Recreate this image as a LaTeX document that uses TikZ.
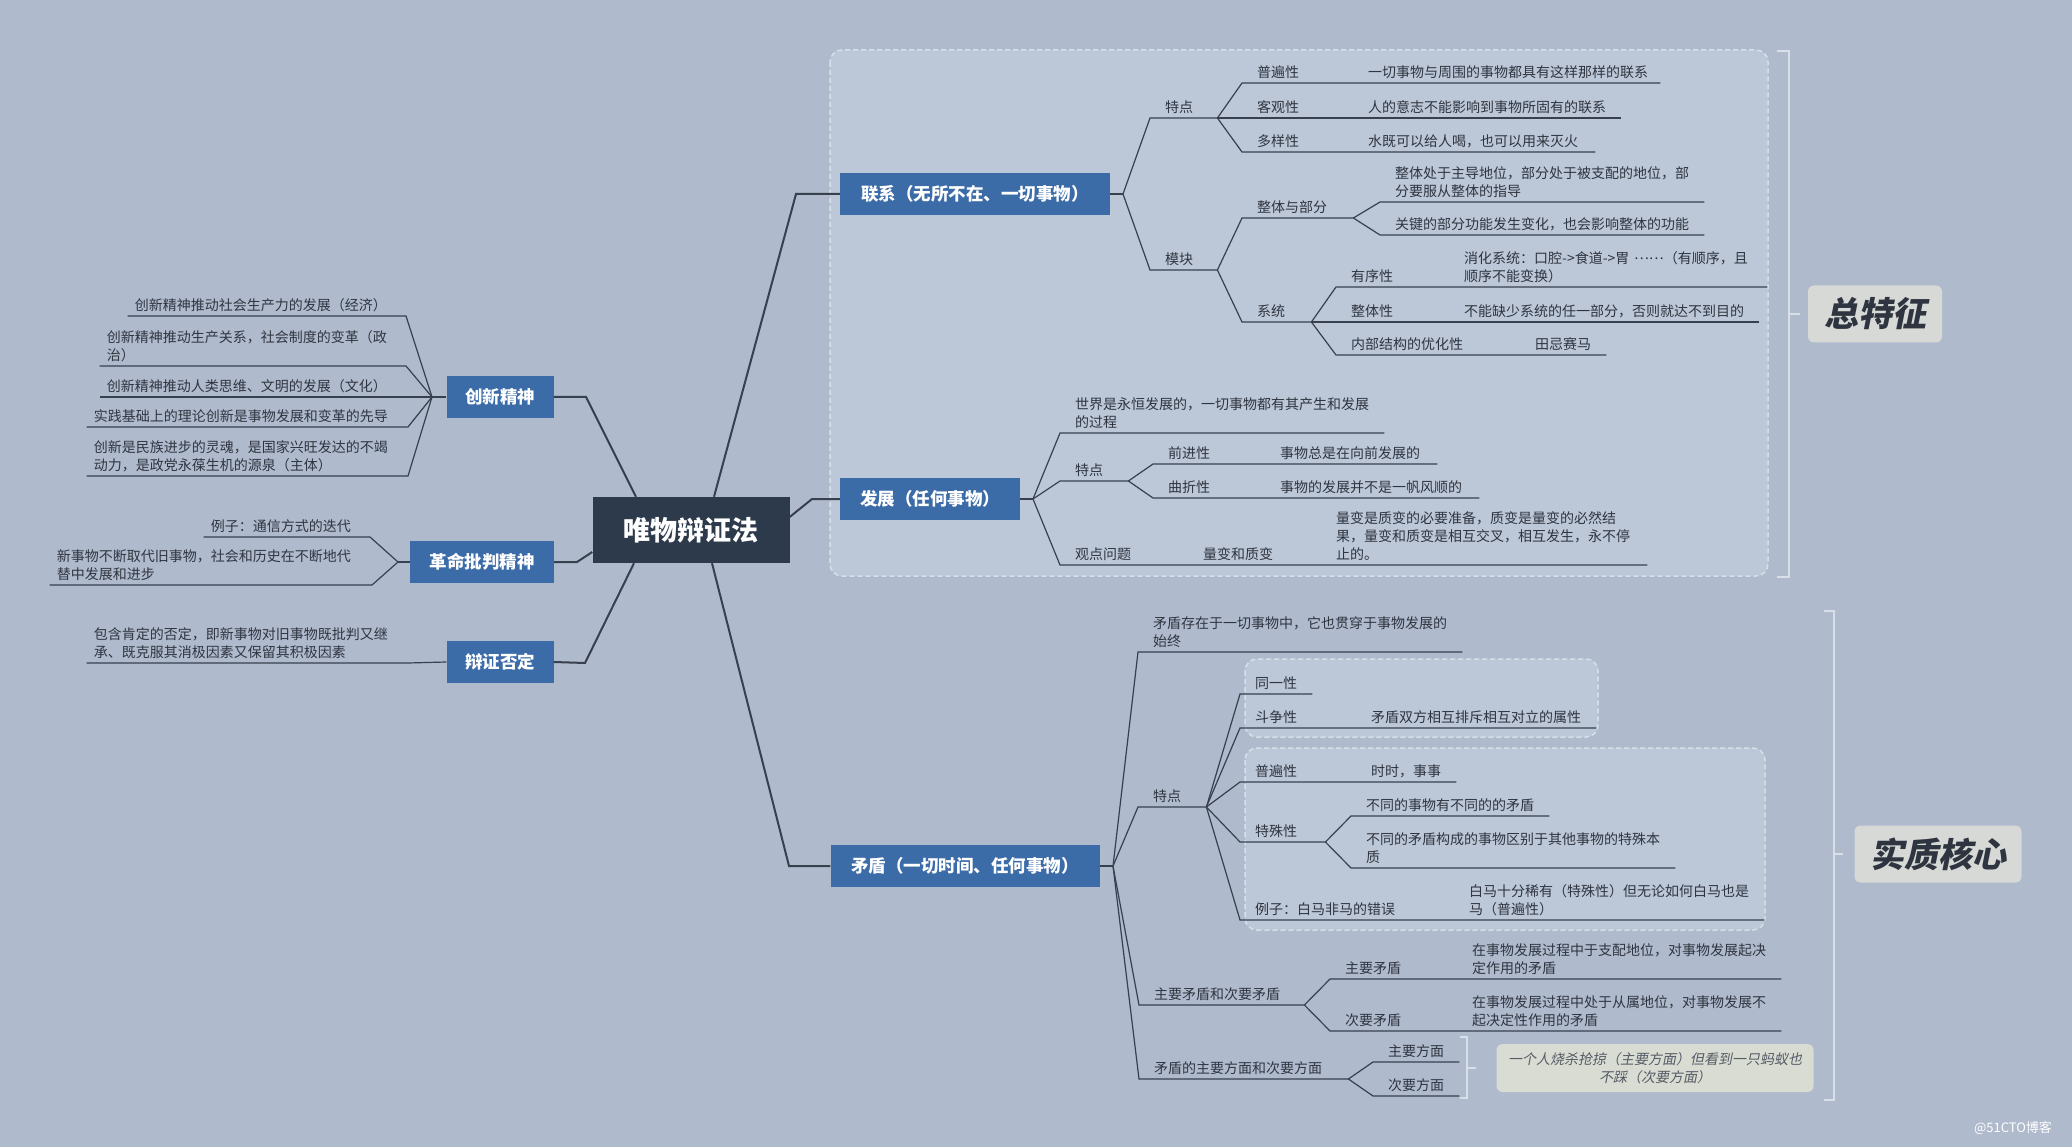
\documentclass[tikz,border=0pt]{standalone}
\usepackage{fontspec}
\setmainfont{Noto Sans CJK SC}
\newfontfamily\tagfont[FakeSlant=0.2]{Noto Sans CJK SC}
\usetikzlibrary{positioning}
\definecolor{bgc}{HTML}{AFBACD}
\definecolor{grpc}{HTML}{BCC7D7}
\definecolor{grpd}{HTML}{D8DFE9}
\definecolor{mainc}{HTML}{3C6CA8}
\definecolor{rootc}{HTML}{2D3A4C}
\definecolor{linec}{HTML}{38404E}
\definecolor{txtc}{HTML}{2F3540}
\definecolor{tagc}{HTML}{D7D9D6}
\definecolor{notec}{HTML}{D9DCD2}
\definecolor{notet}{HTML}{555C66}

\begin{document}
\begin{tikzpicture}[x=1pt, y=-1pt,
    root/.style={fill=rootc, text=white, font=\fontsize{27}{30}\selectfont\bfseries, minimum width=197pt, minimum height=66pt},
    mainbox/.style={fill=mainc, text=white, font=\fontsize{17.5}{20}\selectfont\bfseries, minimum height=42pt, inner xsep=0pt},
    rt/.style={anchor=south west, align=left, inner xsep=15pt, inner ysep=4pt, text=txtc, font=\fontsize{14}{18}\selectfont},
    lt/.style={anchor=south east, align=left, inner xsep=7pt, inner ysep=4pt, text=txtc, font=\fontsize{14}{18}\selectfont},
    trunk/.style={draw=linec, line width=2pt},
    twig/.style={draw=linec, line width=1.2pt},
    grp/.style={draw=grpd, dash pattern=on 5pt off 3pt, line width=1.5pt, fill=grpc, rounded corners=12pt},
    brk/.style={draw=grpd, line width=1.5pt},
    tag/.style={fill=tagc, rounded corners=6pt, text=txtc, font=\tagfont\bfseries\fontsize{34}{38}\selectfont, minimum height=57pt},
    note/.style={fill=notec, rounded corners=6pt, text=notet, align=center, font=\tagfont\fontsize{14}{18}\selectfont, minimum width=317pt, minimum height=48pt}
  ]
  \fill[bgc] (0,0) rectangle (2072,1147);
  \useasboundingbox (0,0) rectangle (2072,1147);

  \draw[grp] (830,50) rectangle (1768,576);
  \draw[grp] (1245,659) rectangle (1598,737);
  \draw[grp] (1245,748) rectangle (1765,930);

  \coordinate (lxk) at (796,194);
  \coordinate (fzk) at (812,499);
  \coordinate (mdk) at (789,866);
  \coordinate (cxk) at (586,397);
  \coordinate (gmk) at (577,562);
  \coordinate (bzk) at (585,663);

  \coordinate (lxf) at (1123,194);
  \coordinate (fzf) at (1033,499);
  \coordinate (mdf) at (1113,866);
  \coordinate (cxf) at (432,397);
  \coordinate (gmf) at (398,562);

  \node[root] (r) at (691,530) {唯物辩证法};
  \node[mainbox, minimum width=270pt] (lx) at (975,194) {联系（无所不在、一切事物）};
  \node[mainbox, minimum width=180pt] (fz) at (930,499) {发展（任何事物）};
  \node[mainbox, minimum width=269pt] (md) at (965,866) {矛盾（一切时间、任何事物）};
  \node[mainbox, minimum width=107pt] (cx) at (500,397) {创新精神};
  \node[mainbox, minimum width=144pt] (gm) at (482,562) {革命批判精神};
  \node[mainbox, minimum width=107pt] (bz) at (500,662) {辩证否定};

  \node[rt, text width=37pt] (lxa) at (1150,118) {特点};
  \node[rt, text width=81pt] (lxa1) at (1242,83) {普遍性};
  \node[rt, text width=277pt] (lxa1d) at (1353,83) {一切事物与周围的事物都具有这样那样的联系};
  \node[rt, text width=81pt] (lxa2) at (1242,118) {客观性};
  \node[rt, text width=238pt] (lxa2d) at (1353,118) {人的意志不能影响到事物所固有的联系};
  \node[rt, text width=81pt] (lxa3) at (1242,152) {多样性};
  \node[rt, text width=212pt] (lxa3d) at (1353,152) {水既可以给人喝，也可以用来灭火};
  \node[rt, text width=37pt] (lxb) at (1150,270) {模块};
  \node[rt, text width=81pt] (lxb1) at (1242,218) {整体与部分};
  \node[rt, text width=294pt] (lxb1a) at (1380,202) {整体处于主导地位，部分处于被支配的地位，部\\分要服从整体的指导};
  \node[rt, text width=294pt] (lxb1b) at (1380,235) {关键的部分功能发生变化，也会影响整体的功能};
  \node[rt, text width=39pt] (lxb2) at (1242,322) {系统};
  \node[rt, text width=83pt] (lxb2a) at (1336,287) {有序性};
  \node[rt, text width=288pt] (lxb2ad) at (1449,287) {消化系统：口腔->食道->胃~\raisebox{4pt}{……}（有顺序，且\\顺序不能变换）};
  \node[rt, text width=83pt] (lxb2b) at (1336,322) {整体性};
  \node[rt, text width=280pt] (lxb2bd) at (1449,322) {不能缺少系统的任一部分，否则就达不到目的};
  \node[rt, text width=154pt] (lxb2c) at (1336,355) {内部结构的优化性};
  \node[rt, text width=56pt] (lxb2cd) at (1520,355) {田忌赛马};

  \node[rt, text width=294pt] (fza) at (1060,433) {世界是永恒发展的，一切事物都有其产生和发展\\的过程};
  \node[rt, text width=38pt] (fzb) at (1060,481) {特点};
  \node[rt, text width=82pt] (fzb1) at (1153,464) {前进性};
  \node[rt, text width=142pt] (fzb1d) at (1265,464) {事物总是在向前发展的};
  \node[rt, text width=82pt] (fzb2) at (1153,498) {曲折性};
  \node[rt, text width=184pt] (fzb2d) at (1265,498) {事物的发展并不是一帆风顺的};
  \node[rt, text width=98pt] (fzc) at (1060,565) {观点问题};
  \node[rt, text width=103pt] (fzc1) at (1188,565) {量变和质变};
  \node[rt, text width=296pt] (fzc1d) at (1321,565) {量变是质变的必要准备，质变是量变的必然结\\果，量变和质变是相互交叉，相互发生，永不停\\止的。};

  \node[rt, text width=294pt] (mda) at (1138,652) {矛盾存在于一切事物中，它也贯穿于事物发展的\\始终};
  \node[rt, text width=38pt] (mdb) at (1138,807) {特点};
  \node[rt, text width=42pt] (mdb1) at (1240,694) {同一性};
  \node[rt, text width=86pt] (mdb2) at (1240,728) {斗争性};
  \node[rt, text width=210pt] (mdb2d) at (1356,728) {矛盾双方相互排斥相互对立的属性};
  \node[rt, text width=86pt] (mdb3) at (1240,782) {普遍性};
  \node[rt, text width=70pt] (mdb3d) at (1356,782) {时时，事事};
  \node[rt, text width=55pt] (mdb4) at (1240,842) {特殊性};
  \node[rt, text width=168pt] (mdb4a) at (1351,816) {不同的事物有不同的的矛盾};
  \node[rt, text width=294pt] (mdb4b) at (1351,868) {不同的矛盾构成的事物区别于其他事物的特殊本\\质};
  \node[rt, text width=184pt] (mdb5) at (1240,920) {例子：白马非马的错误};
  \node[rt, text width=280pt] (mdb5d) at (1454,920) {白马十分稀有（特殊性）但无论如何白马也是\\马（普遍性）};
  \node[rt, text width=135pt] (mdc) at (1139,1005) {主要矛盾和次要矛盾};
  \node[rt, text width=97pt] (mdc1) at (1330,979) {主要矛盾};
  \node[rt, text width=294pt] (mdc1d) at (1457,979) {在事物发展过程中于支配地位，对事物发展起决\\定作用的矛盾};
  \node[rt, text width=97pt] (mdc2) at (1330,1031) {次要矛盾};
  \node[rt, text width=294pt] (mdc2d) at (1457,1031) {在事物发展过程中处于从属地位，对事物发展不\\起决定性作用的矛盾};
  \node[rt, text width=179pt] (mdd) at (1139,1079) {矛盾的主要方面和次要方面};
  \node[rt, text width=56pt] (mdd1) at (1373,1062) {主要方面};
  \node[rt, text width=56pt] (mdd2) at (1373,1096) {次要方面};

  \node[lt, text width=264pt] (cx1) at (406,316) {创新精神推动社会生产力的发展（经济）};
  \node[lt, text width=292pt] (cx2) at (406,366) {创新精神推动生产关系，社会制度的变革（政\\治）};
  \node[lt, text width=292pt] (cx3) at (406,397) {创新精神推动人类思维、文明的发展（文化）};
  \node[lt, text width=307pt] (cx4) at (408,427) {实践基础上的理论创新是事物发展和变革的先导};
  \node[lt, text width=307pt] (cx5) at (408,476) {创新是民族进步的灵魂，是国家兴旺发达的不竭\\动力，是政党永葆生机的源泉（主体）};
  \node[lt, text width=152pt] (gm1) at (370,537) {例子：通信方式的迭代};
  \node[lt, text width=308pt] (gm2) at (372,585) {新事物不断取代旧事物，社会和历史在不断地代\\替中发展和进步};
  \node[lt, text width=307pt] (bz1) at (408,663) {包含肯定的否定，即新事物对旧事物既批判又继\\承、既克服其消极因素又保留其积极因素};

  \node[tag, minimum width=134pt] (t1) at (1875,314) {总特征};
  \node[tag, minimum width=167pt] (t2) at (1938,854) {实质核心};
  \node[note] (nt) at (1655,1068) {一个人烧杀抢掠（主要方面）但看到一只蚂蚁也\\不踩（次要方面）};
  \node[text=white, font=\fontsize{13}{15}\selectfont] (wm) at (2013,1128) {@51CTO博客};

  \draw[trunk] ([xshift=23pt]r.north) -- (lxk) -- (lx.west);
  \draw[trunk] ([yshift=13pt]r.east) -- (fzk) -- (fz.west);
  \draw[trunk] ([xshift=21pt]r.south) -- (mdk) -- (md.west);
  \draw[trunk] ([xshift=-55pt]r.north) -- (cxk) -- (cx.east);
  \draw[trunk] ([yshift=-22pt]r.west) -- (gmk) -- (gm.east);
  \draw[trunk] ([xshift=-57pt]r.south) -- (bzk) -- (bz.east);

  \draw[twig] (lx.east) -- (lxf);
  \draw[twig] (lxf) -- (lxa.south west) -- (lxa.south east);
  \draw[twig] (lxf) -- (lxb.south west) -- (lxb.south east);
  \draw[twig] (lxa.south east) -- (lxa1.south west) -- (lxa1.south east) -- (lxa1d.south east);
  \draw[twig] (lxa.south east) -- (lxa2.south west) -- (lxa2.south east) -- (lxa2d.south east);
  \draw[twig] (lxa.south east) -- (lxa3.south west) -- (lxa3.south east) -- (lxa3d.south east);
  \draw[twig] (lxb.south east) -- (lxb1.south west) -- (lxb1.south east);
  \draw[twig] (lxb.south east) -- (lxb2.south west) -- (lxb2.south east);
  \draw[twig] (lxb1.south east) -- (lxb1a.south west) -- (lxb1a.south east);
  \draw[twig] (lxb1.south east) -- (lxb1b.south west) -- (lxb1b.south east);
  \draw[twig] (lxb2.south east) -- (lxb2a.south west) -- (lxb2a.south east) -- (lxb2ad.south east);
  \draw[twig] (lxb2.south east) -- (lxb2b.south west) -- (lxb2b.south east) -- (lxb2bd.south east);
  \draw[twig] (lxb2.south east) -- (lxb2c.south west) -- (lxb2c.south east) -- (lxb2cd.south east);

  \draw[twig] (fz.east) -- (fzf);
  \draw[twig] (fzf) -- (fza.south west) -- (fza.south east);
  \draw[twig] (fzf) -- (fzb.south west) -- (fzb.south east);
  \draw[twig] (fzf) -- (fzc.south west) -- (fzc.south east) -- (fzc1.south east) -- (fzc1d.south east);
  \draw[twig] (fzb.south east) -- (fzb1.south west) -- (fzb1.south east) -- (fzb1d.south east);
  \draw[twig] (fzb.south east) -- (fzb2.south west) -- (fzb2.south east) -- (fzb2d.south east);

  \draw[twig] (md.east) -- (mdf);
  \draw[twig] (mdf) -- (mda.south west) -- (mda.south east);
  \draw[twig] (mdf) -- (mdb.south west) -- (mdb.south east);
  \draw[twig] (mdf) -- (mdc.south west) -- (mdc.south east);
  \draw[twig] (mdf) -- (mdd.south west) -- (mdd.south east);
  \draw[twig] (mdb.south east) -- (mdb1.south west) -- (mdb1.south east);
  \draw[twig] (mdb.south east) -- (mdb2.south west) -- (mdb2.south east) -- (mdb2d.south east);
  \draw[twig] (mdb.south east) -- (mdb3.south west) -- (mdb3.south east) -- (mdb3d.south east);
  \draw[twig] (mdb.south east) -- (mdb4.south west) -- (mdb4.south east);
  \draw[twig] (mdb.south east) -- (mdb5.south west) -- (mdb5.south east) -- (mdb5d.south east);
  \draw[twig] (mdb4.south east) -- (mdb4a.south west) -- (mdb4a.south east);
  \draw[twig] (mdb4.south east) -- (mdb4b.south west) -- (mdb4b.south east);
  \draw[twig] (mdc.south east) -- (mdc1.south west) -- (mdc1.south east) -- (mdc1d.south east);
  \draw[twig] (mdc.south east) -- (mdc2.south west) -- (mdc2.south east) -- (mdc2d.south east);
  \draw[twig] (mdd.south east) -- (mdd1.south west) -- (mdd1.south east);
  \draw[twig] (mdd.south east) -- (mdd2.south west) -- (mdd2.south east);

  \draw[twig] (cx.west) -- (cxf);
  \draw[twig] (cxf) -- (cx1.south east) -- (cx1.south west);
  \draw[twig] (cxf) -- (cx2.south east) -- (cx2.south west);
  \draw[twig] (cxf) -- (cx3.south east) -- (cx3.south west);
  \draw[twig] (cxf) -- (cx4.south east) -- (cx4.south west);
  \draw[twig] (cxf) -- (cx5.south east) -- (cx5.south west);
  \draw[twig] (gm.west) -- (gmf);
  \draw[twig] (gmf) -- (gm1.south east) -- (gm1.south west);
  \draw[twig] (gmf) -- (gm2.south east) -- (gm2.south west);
  \draw[twig] (bz.west) -- (bz1.south east) -- (bz1.south west);

  \draw[brk] (1777,51) -- (1789,51) -- (1789,577) -- (1777,577);
  \draw[brk] (1789,314) -- (1800,314);
  \draw[brk] (1824,611) -- (1834,611) -- (1834,1100) -- (1824,1100);
  \draw[brk] (1834,854) -- (1843,854);
  \draw[brk] (1460,1037) -- (1467,1037) -- (1467,1098) -- (1460,1098);
  \draw[brk] (1467,1068) -- (1476,1068);
\end{tikzpicture}
\end{document}
